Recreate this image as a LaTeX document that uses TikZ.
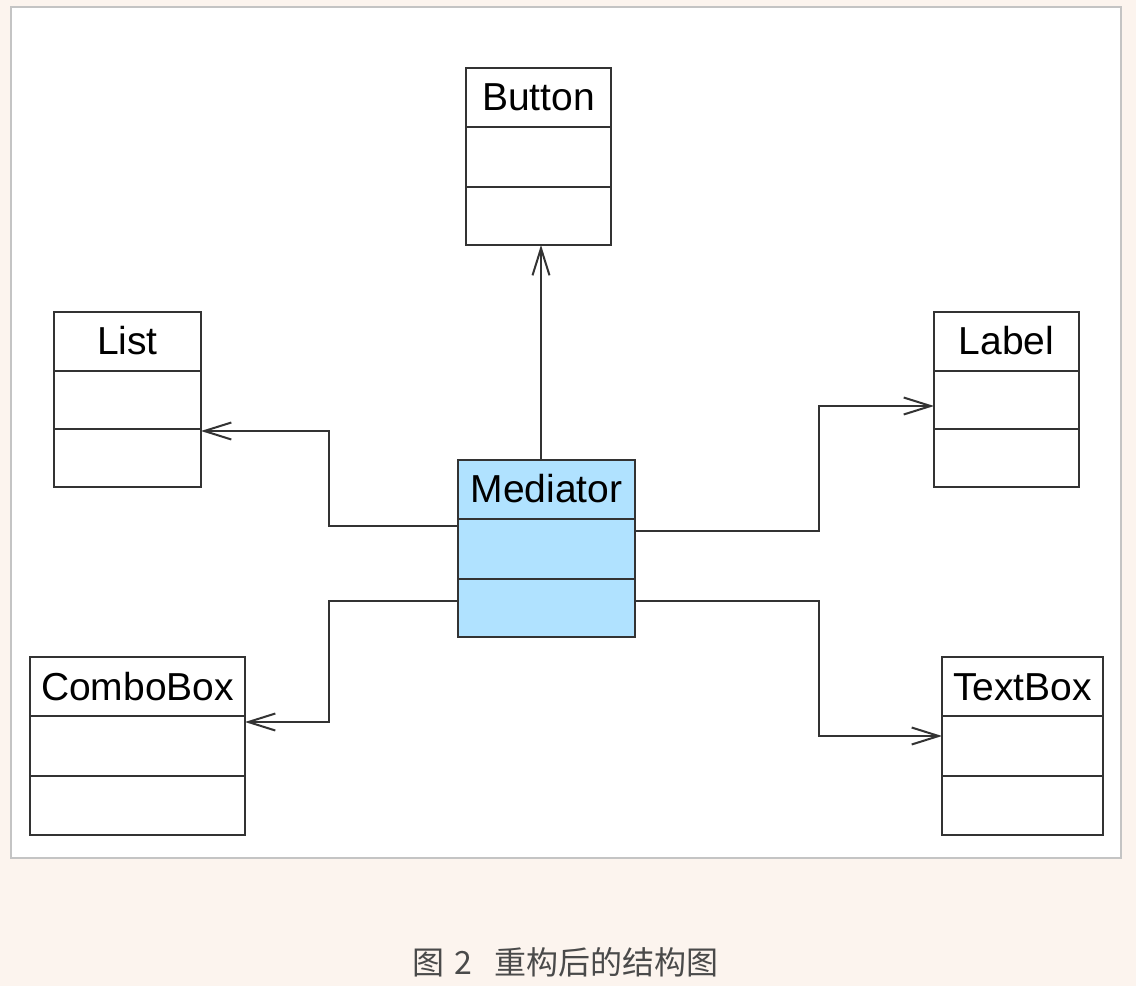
\documentclass[tikz,border=0pt]{standalone}
\usepackage{fontspec}
\setmainfont{Liberation Sans}
\newfontfamily\cjk{Noto Sans CJK SC}
\usetikzlibrary{arrows.meta}
\definecolor{bgcream}{HTML}{FCF4EE}
\definecolor{panelgray}{HTML}{C4C4C4}
\definecolor{boxline}{HTML}{333333}
\definecolor{medblue}{HTML}{B0E2FF}
\definecolor{captiongray}{HTML}{4A4A4A}
\tikzset{
  umlbox/.style={draw=boxline, line width=2pt, fill=white, inner sep=0pt, outer sep=0pt},
  umltitle/.style={anchor=base, inner sep=0pt, font=\fontsize{39}{39}\selectfont},
  divider/.style={draw=boxline, line width=2pt},
  arr/.style={draw=boxline, line width=2pt, -{Straight Barb[length=27pt,width=17pt]}},
}
\begin{document}
\begin{tikzpicture}[x=1pt,y=-1pt]
\useasboundingbox (0,0) rectangle (1136,986);
\fill[bgcream] (0,0) rectangle (1136,986);
\draw[fill=white, draw=panelgray, line width=2pt] (11,7) rectangle (1121,858);

% classes: centre, size
\node[umlbox, minimum width=145pt, minimum height=177pt] (btn) at (538.5,156.5) {};
\node[umlbox, minimum width=147pt, minimum height=175pt] (lst) at (127.5,399.5) {};
\node[umlbox, minimum width=145pt, minimum height=175pt] (lbl) at (1006.5,399.5) {};
\node[umlbox, fill=medblue, minimum width=177pt, minimum height=177pt] (med) at (546.5,548.5) {};
\node[umlbox, minimum width=215pt, minimum height=178pt] (cb) at (137.5,746) {};
\node[umlbox, minimum width=161pt, minimum height=178pt] (tb) at (1022.5,746) {};

% dividers
\draw[divider] (btn.west |- 0,127) -- (btn.east |- 0,127);
\draw[divider] (btn.west |- 0,187) -- (btn.east |- 0,187);
\draw[divider] (lst.west |- 0,371) -- (lst.east |- 0,371);
\draw[divider] (lst.west |- 0,429) -- (lst.east |- 0,429);
\draw[divider] (lbl.west |- 0,371) -- (lbl.east |- 0,371);
\draw[divider] (lbl.west |- 0,429) -- (lbl.east |- 0,429);
\draw[divider] (med.west |- 0,519) -- (med.east |- 0,519);
\draw[divider] (med.west |- 0,579) -- (med.east |- 0,579);
\draw[divider] (cb.west |- 0,716) -- (cb.east |- 0,716);
\draw[divider] (cb.west |- 0,776) -- (cb.east |- 0,776);
\draw[divider] (tb.west |- 0,716) -- (tb.east |- 0,716);
\draw[divider] (tb.west |- 0,776) -- (tb.east |- 0,776);

% titles
\node[umltitle] (btnt) at (btn.north |- 0,110) {Button};
\node[umltitle] (lstt) at (lst.north |- 0,354) {List};
\node[umltitle] (lblt) at (lbl.north |- 0,354) {Label};
\node[umltitle] (medt) at (med.north |- 0,502) {Mediator};
\node[umltitle] (cbt) at (cb.north |- 0,700) {ComboBox};
\node[umltitle] (tbt) at (tb.north |- 0,700) {TextBox};

% connectors
\draw[arr] ([xshift=-5.5pt]med.north) -- ([xshift=-5.5pt]med.north |- btn.south);
\draw[arr] ([yshift=22.5pt]med.west) -| (329,431) -- ([yshift=-31.5pt]lst.east);
\draw[arr] ([yshift=-52.5pt]med.west) -| (329,722) -- ([yshift=24pt]cb.east);
\draw[arr] ([yshift=17.5pt]med.east) -| (819,406) -- ([yshift=-6.5pt]lbl.west);
\draw[arr] ([yshift=-52.5pt]med.east) -| (819,736) -- ([yshift=10pt]tb.west);

% caption
\node[font=\cjk\fontsize{32}{32}\selectfont, text=captiongray, inner sep=0pt] (cap) at (565.5,962.5) {图\hspace{10pt}2\hspace{22pt}重构后的结构图};
\end{tikzpicture}
\end{document}
